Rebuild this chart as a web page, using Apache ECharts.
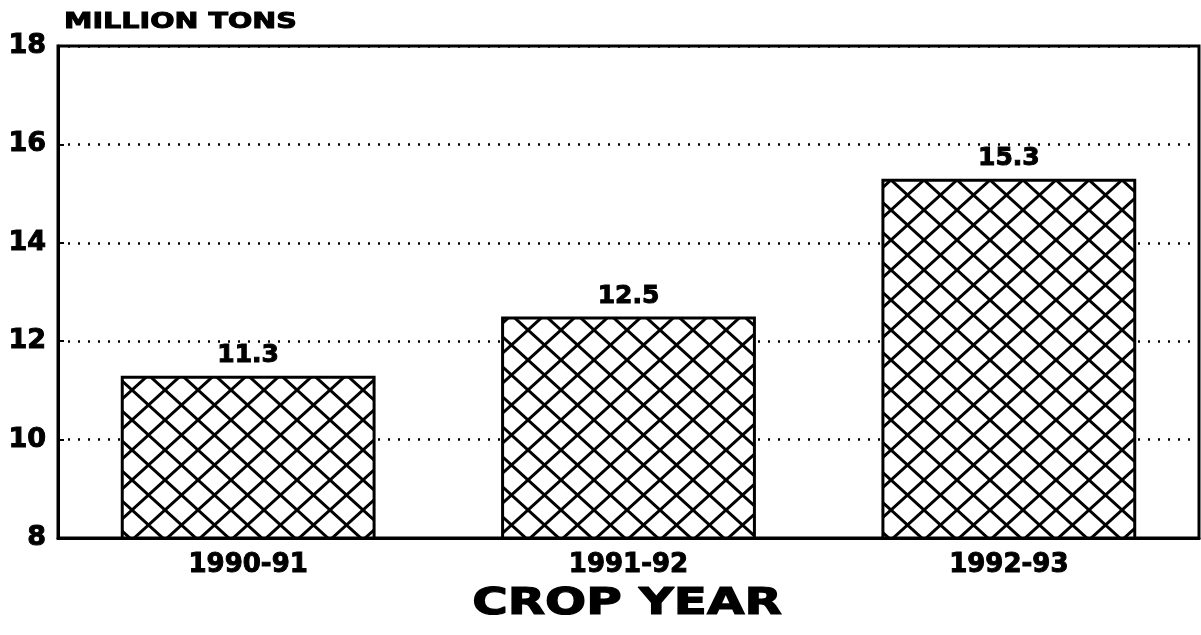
<!DOCTYPE html>
<html>
<head>
<meta charset="utf-8">
<script src="https://cdn.jsdelivr.net/npm/echarts@6/dist/echarts.min.js"></script>
<style>
  html, body { margin: 0; padding: 0; background: #fff; }
  #chart { width: 1201px; height: 635px; }
</style>
</head>
<body>
<div id="chart"></div>
<script>
// data
const cropYears = ['1990-91', '1991-92', '1992-93'];
const millionTons = [11.3, 12.5, 15.3];
const yTicks = [8, 10, 12, 14, 16, 18];

const FONT = 'DejaVu Sans';

// crosshatch tile for the bars
function hatchTile(w, h) {
  const c = document.createElement('canvas');
  c.width = w;
  c.height = h;
  const ctx = c.getContext('2d');
  ctx.fillStyle = '#fff';
  ctx.fillRect(0, 0, w, h);
  ctx.strokeStyle = '#000';
  ctx.lineWidth = 3;
  ctx.beginPath();
  for (const dx of [-w, 0, w]) {
    ctx.moveTo(dx - w, -h);
    ctx.lineTo(dx + 2 * w, 2 * h);
    ctx.moveTo(dx + 2 * w, -h);
    ctx.lineTo(dx - w, 2 * h);
  }
  ctx.stroke();
  return c;
}

// heavier bold text, like the original print
const heavy = { textBorderColor: '#000', textBorderWidth: 1 };

const chart = echarts.init(document.getElementById('chart'));

const option = {
  animation: false,
  backgroundColor: '#fff',
  grid: {
    left: 58, right: 2, top: 46, bottom: 97,
    show: true,
    borderColor: '#000',
    borderWidth: 3
  },
  graphic: [
    {
      type: 'text',
      x: 64, y: 22,
      scaleX: 1.3,
      style: {
        text: 'MILLION TONS',
        font: 'bold 22px "' + FONT + '"',
        fill: '#000',
        stroke: '#000',
        lineWidth: 1,
        textAlign: 'left',
        textVerticalAlign: 'middle'
      }
    },
    {
      type: 'text',
      x: 627, y: 604,
      scaleX: 1.31,
      style: {
        text: 'CROP YEAR',
        font: 'bold 37px "' + FONT + '"',
        fill: '#000',
        stroke: '#000',
        lineWidth: 1.2,
        textAlign: 'center',
        textVerticalAlign: 'middle'
      }
    }
  ],
  xAxis: {
    type: 'category',
    data: cropYears,
    axisLine: { lineStyle: { color: '#000', width: 3 } },
    axisTick: { show: true, inside: true, length: 8, alignWithLabel: true, lineStyle: { color: '#000', width: 2 } },
    axisLabel: { color: '#000', fontFamily: FONT, fontWeight: 'bold', fontSize: 26, margin: 14, ...heavy },
    splitLine: { show: false }
  },
  yAxis: {
    type: 'value',
    min: yTicks[0],
    max: yTicks[yTicks.length - 1],
    interval: 2,
    axisLine: { show: true, lineStyle: { color: '#000', width: 3 } },
    axisTick: { show: true, inside: true, length: 6, lineStyle: { color: '#000', width: 2 } },
    axisLabel: { color: '#000', fontFamily: FONT, fontWeight: 'bold', fontSize: 27, margin: 12, ...heavy },
    splitLine: {
      show: true,
      lineStyle: { color: '#000', width: 2.5, type: [2, 8] }
    }
  },
  series: [{
    type: 'bar',
    data: millionTons,
    barWidth: '67%',
    itemStyle: {
      color: { image: hatchTile(33, 30), repeat: 'repeat' },
      borderColor: '#000',
      borderWidth: 3
    },
    label: {
      show: true,
      position: 'top',
      distance: 8,
      color: '#000',
      fontFamily: FONT,
      fontWeight: 'bold',
      fontSize: 25,
      ...heavy,
      formatter: p => p.value.toFixed(1)
    }
  }]
};

chart.setOption(option);
</script>
</body>
</html>
